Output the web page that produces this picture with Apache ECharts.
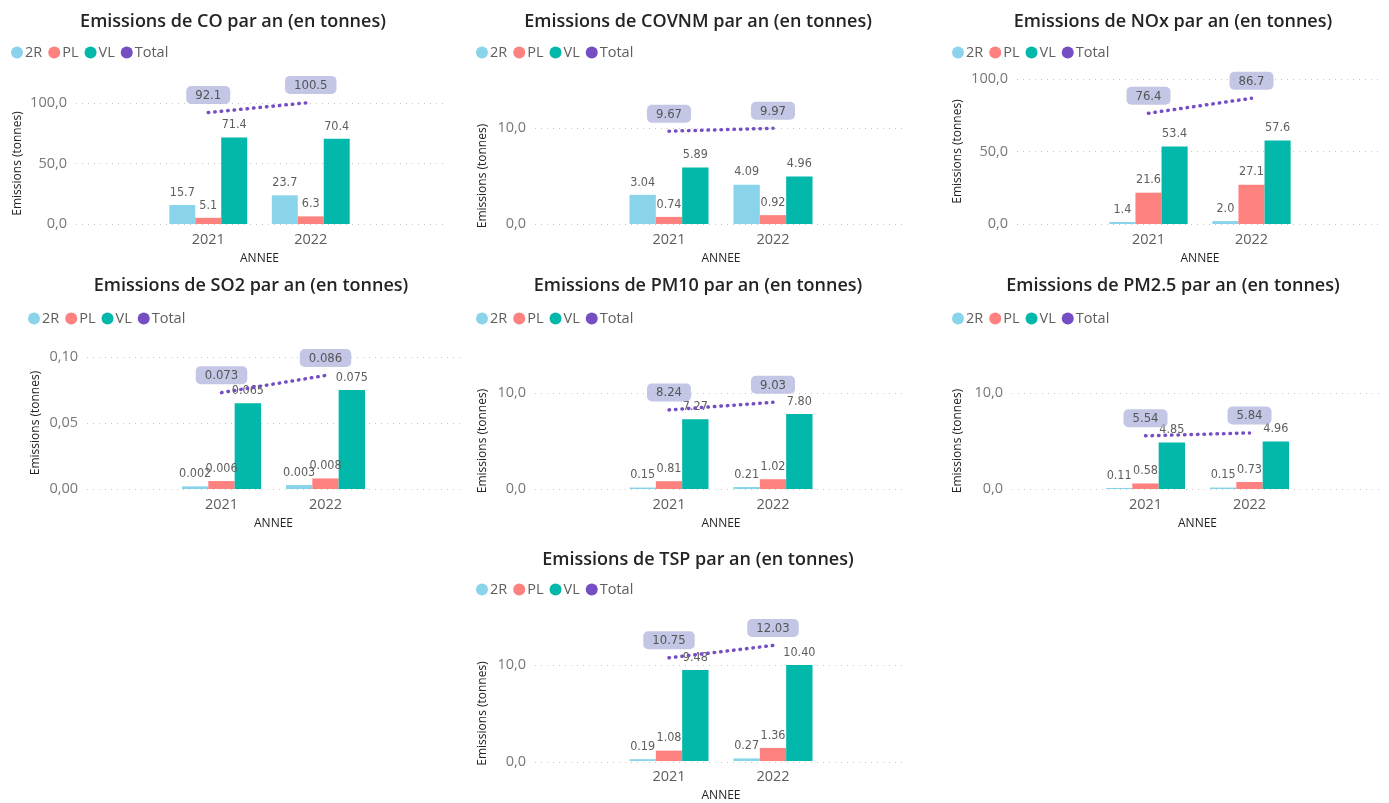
<!DOCTYPE html>
<html>
<head>
<meta charset="utf-8">
<script src="https://cdn.jsdelivr.net/npm/echarts@6/dist/echarts.min.js"></script>
<style>
html,body{margin:0;padding:0;background:#fff;}
#main{width:1389px;height:803px;}
</style>
</head>
<body>
<div id="main"></div>
<script>
// ---- data ----
const years = ['2021', '2022'];
const seriesNames = ['2R', 'PL', 'VL', 'Total'];

const co2R = [15.7, 23.7];
const coPL = [5.1, 6.3];
const coVL = [71.4, 70.4];
const coTotal = [92.1, 100.5];

const covnm2R = [3.04, 4.09];
const covnmPL = [0.74, 0.92];
const covnmVL = [5.89, 4.96];
const covnmTotal = [9.67, 9.97];

const nox2R = [1.4, 2.0];
const noxPL = [21.6, 27.1];
const noxVL = [53.4, 57.6];
const noxTotal = [76.4, 86.7];

const so22R = [0.002, 0.003];
const so2PL = [0.006, 0.008];
const so2VL = [0.065, 0.075];
const so2Total = [0.073, 0.086];

const pm102R = [0.15, 0.21];
const pm10PL = [0.81, 1.02];
const pm10VL = [7.27, 7.80];
const pm10Total = [8.24, 9.03];

const pm252R = [0.11, 0.15];
const pm25PL = [0.58, 0.73];
const pm25VL = [4.85, 4.96];
const pm25Total = [5.54, 5.84];

const tsp2R = [0.19, 0.27];
const tspPL = [1.08, 1.36];
const tspVL = [9.48, 10.40];
const tspTotal = [10.75, 12.03];

const titles = [
  'Emissions de CO par an (en tonnes)',
  'Emissions de COVNM par an (en tonnes)',
  'Emissions de NOx par an (en tonnes)',
  'Emissions de SO2 par an (en tonnes)',
  'Emissions de PM10 par an (en tonnes)',
  'Emissions de PM2.5 par an (en tonnes)',
  'Emissions de TSP par an (en tonnes)'
];
const yAxisTitle = 'Emissions (tonnes)';
const xAxisTitle = 'ANNEE';

// ---- layout / style ----
const colors = ['#8AD4EB', '#FD817E', '#01B8AA', '#744EC2'];
const panels = [
  {data:[co2R,coPL,coVL,coTotal], dec:1, axDec:1, max:100, interval:50,
   tx:228, ty:8, lx:11, ly:45, gl:76, gr:443, gt:103, gb:224, band:102.5, yt:17},
  {data:[covnm2R,covnmPL,covnmVL,covnmTotal], dec:2, axDec:1, max:10, interval:10,
   tx:693, ty:8, lx:476, ly:45, gl:535, gr:907, gt:128, gb:224, band:104, yt:482},
  {data:[nox2R,noxPL,noxVL,noxTotal], dec:1, axDec:1, max:100, interval:50,
   tx:1168, ty:8, lx:952, ly:45, gl:1017, gr:1383, gt:79, gb:224, band:103, yt:957},
  {data:[so22R,so2PL,so2VL,so2Total], dec:3, axDec:2, max:0.1, interval:0.05,
   tx:246, ty:272, lx:28, ly:311, gl:87, gr:460, gt:357, gb:489, band:104, yt:35},
  {data:[pm102R,pm10PL,pm10VL,pm10Total], dec:2, axDec:1, max:10, interval:10,
   tx:693, ty:272, lx:476, ly:311, gl:535, gr:907, gt:393, gb:489, band:104, yt:482},
  {data:[pm252R,pm25PL,pm25VL,pm25Total], dec:2, axDec:1, max:10, interval:10,
   tx:1168, ty:272, lx:952, ly:311, gl:1012, gr:1383, gt:393, gb:489, band:104, yt:957},
  {data:[tsp2R,tspPL,tspVL,tspTotal], dec:2, axDec:1, max:10, interval:10,
   tx:693, ty:546, lx:476, ly:582, gl:535, gr:907, gt:665, gb:762, band:104, yt:482}
];

const W = 1389, H = 803;
const option = {
  animation: false,
  title: [], legend: [], grid: [], xAxis: [], yAxis: [], series: []
};
const labelFont = '"Liberation Sans Narrow", "DejaVu Sans Condensed", sans-serif';
const mainFont = '"Open Sans", "Noto Sans", sans-serif';

panels.forEach((p, i) => {
  option.title.push({
    text: titles[i], left: p.tx, top: p.ty, textAlign: 'center',
    textStyle: {fontFamily: mainFont, fontSize: 18, fontWeight: 600, color: '#252423'}
  });
  option.legend.push({
    data: seriesNames.map((n, k) => ({name: n, itemStyle: {color: colors[k], opacity: 1}})),
    left: p.lx, top: p.ly, padding: 0, itemGap: 6,
    icon: 'circle', itemWidth: 12, itemHeight: 12,
    textStyle: {fontFamily: mainFont, fontSize: 14.5, color: '#605E5C', padding: [0, 0, 0, -3]},
    selectedMode: false
  });
  const g0 = option.grid.length;
  option.grid.push({left: p.gl, width: p.gr - p.gl, top: p.gt, height: p.gb - p.gt, containLabel: false});
  const cx = (p.gl + p.gr) / 2;
  const bw = p.band * 2;
  option.grid.push({left: cx - bw / 2, width: bw, top: p.gt, height: p.gb - p.gt, containLabel: false});
  option.xAxis.push({gridIndex: g0, type: 'category', data: years, show: false});
  option.xAxis.push({
    gridIndex: g0 + 1, type: 'category', data: years,
    axisLine: {show: false}, axisTick: {show: false},
    axisLabel: {fontFamily: mainFont, fontSize: 14.5, color: '#605E5C', margin: 8},
    name: xAxisTitle, nameLocation: 'middle', nameGap: 29,
    nameTextStyle: {fontFamily: mainFont, fontSize: 12, color: '#252423'}
  });
  option.yAxis.push({
    gridIndex: g0, type: 'value', min: 0, max: p.max, interval: p.interval,
    axisLine: {show: false}, axisTick: {show: false},
    axisLabel: {fontFamily: mainFont, fontSize: 14.5, color: '#777', margin: 9,
      formatter: v => v.toFixed(p.axDec).replace('.', ',')},
    splitLine: {show: true, lineStyle: {color: '#C8C8C8', type: [1, 5], width: 1}},
    name: yAxisTitle, nameLocation: 'middle', nameGap: p.gl - p.yt - 7,
    nameTextStyle: {fontFamily: mainFont, fontSize: 12, color: '#252423'}
  });
  option.yAxis.push({
    gridIndex: g0 + 1, type: 'value', min: 0, max: p.max, interval: p.interval, show: false,
    splitLine: {show: false}
  });
  ['2R', 'PL', 'VL'].forEach((n, k) => {
    option.series.push({
      type: 'bar', name: n, xAxisIndex: g0 + 1, yAxisIndex: g0 + 1,
      data: p.data[k], barGap: 0, barCategoryGap: '24%',
      itemStyle: {color: colors[k]},
      label: {show: true, position: 'top', distance: 6,
        fontFamily: labelFont, fontSize: 12.5, color: '#605E5C',
        formatter: d => d.value.toFixed(p.dec)}
    });
  });
  option.series.push({
    type: 'line', name: 'Total', xAxisIndex: g0 + 1, yAxisIndex: g0 + 1,
    data: p.data[3], symbol: 'circle', symbolSize: 1, showSymbol: true, clip: false, z: 5,
    lineStyle: {color: colors[3], width: 3.5, type: [0.5, 6], cap: 'round'},
    itemStyle: {color: 'rgba(0,0,0,0)'},
    label: {show: true, position: 'top', distance: 8,
      fontFamily: labelFont, fontSize: 13, color: '#555',
      backgroundColor: 'rgba(170,174,218,0.7)', borderRadius: 5,
      padding: [3, 9, 2, 9],
      formatter: d => d.value.toFixed(p.dec)}
  });
});

const chart = echarts.init(document.getElementById('main'), null, {renderer: 'canvas', width: W, height: H});
chart.setOption(option);
</script>
</body>
</html>
